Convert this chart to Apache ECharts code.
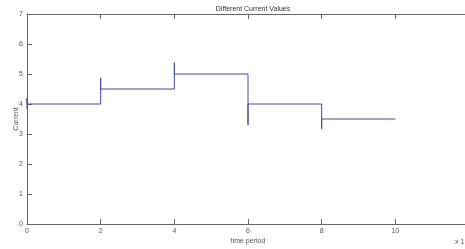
<!DOCTYPE html>
<html><head><meta charset="utf-8">
<script src="https://cdn.jsdelivr.net/npm/echarts@6/dist/echarts.min.js"></script>
<style>html,body{margin:0;padding:0;background:#fff}#c{width:465px;height:249px}</style>
</head><body><div id="c"></div>
<script>
const titleText = 'Different Current Values';
const xName = 'time period';
const yName = 'Current';
const xTicks = [0, 2, 4, 6, 8, 10, 12];
const yTicks = [0, 1, 2, 3, 4, 5, 6, 7];
const stepX = [0, 0, 0, 2, 2, 2, 4, 4, 4, 6, 6, 6, 8, 8, 8, 10];
const stepY = [3.83, 4.2, 4, 4, 4.87, 4.5, 4.5, 5.38, 5, 5, 3.3, 4, 4, 3.17, 3.5, 3.5];
const scaleNote = 'x 1';

const font = 'Liberation Sans';
const axisCol = '#666';
const txtCol = '#555';
const chart = echarts.init(document.getElementById('c'));
const axisCommon = {
  axisLine: {show: true, lineStyle: {color: axisCol, width: 1}},
  axisTick: {show: true, inside: true, length: 5, lineStyle: {color: axisCol}},
  splitLine: {show: false}
};
chart.setOption({
  animation: false,
  title: {text: titleText, left: 248, top: 1, textAlign: 'center',
    textStyle: {fontFamily: font, fontSize: 7, fontWeight: 'normal', color: '#333'}},
  grid: {left: 27, top: 14, width: 442, height: 210, containLabel: false, outerBoundsMode: 'none'},
  xAxis: [
    Object.assign({type: 'value', min: xTicks[0], max: xTicks[xTicks.length - 1], interval: 2,
      name: xName, nameLocation: 'middle', nameGap: 14, nameMoveOverlap: false,
      nameTextStyle: {fontFamily: font, fontSize: 7, color: txtCol},
      axisLabel: {fontFamily: font, fontSize: 7, color: txtCol, margin: 4,
        formatter: v => xTicks.includes(v) && v <= 10 ? String(v) : ''}}, axisCommon),
    Object.assign({type: 'value', position: 'top', min: xTicks[0], max: xTicks[xTicks.length - 1], interval: 2,
      axisLabel: {show: false}}, axisCommon)
  ],
  yAxis: [
    Object.assign({type: 'value', min: yTicks[0], max: yTicks[yTicks.length - 1], interval: 1,
      name: yName, nameLocation: 'middle', nameGap: 7, nameRotate: 90, nameMoveOverlap: false,
      nameTextStyle: {fontFamily: font, fontSize: 7, color: txtCol},
      axisLabel: {fontFamily: font, fontSize: 7, color: txtCol, margin: 4,
        formatter: v => yTicks.includes(v) ? String(v) : ''}}, axisCommon)
  ],
  series: [{
    type: 'line', data: stepX.map((x, i) => [x, stepY[i]]),
    showSymbol: false, symbol: 'none',
    lineStyle: {color: '#4848a0', width: 1}, clip: false
  }],
  graphic: [{type: 'text', left: 455, top: 239,
    style: {text: scaleNote, fontFamily: font, fontSize: 7, fill: txtCol}}]
});
</script></body></html>
